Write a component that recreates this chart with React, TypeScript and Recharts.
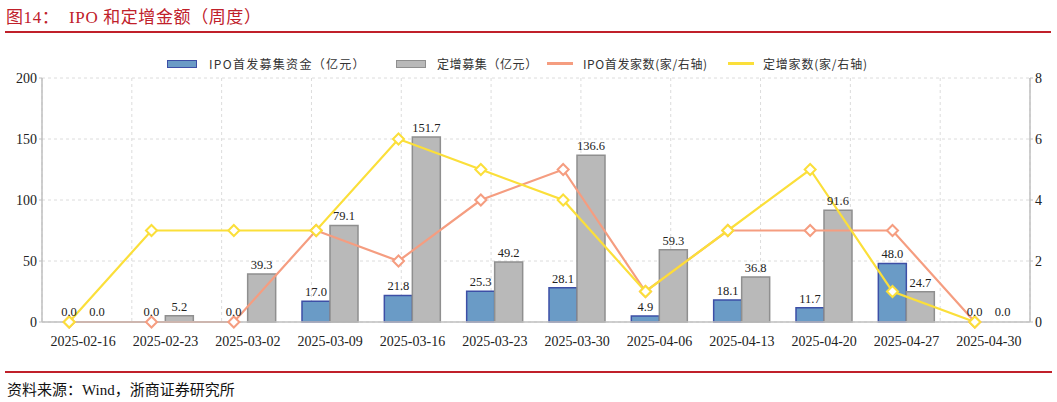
import React from 'react';
import { ComposedChart, Bar, Line, XAxis, YAxis, CartesianGrid, LabelList, Rectangle } from 'recharts';

// weekly data
const weeks = ['2025-02-16', '2025-02-23', '2025-03-02', '2025-03-09', '2025-03-16', '2025-03-23', '2025-03-30', '2025-04-06', '2025-04-13', '2025-04-20', '2025-04-27', '2025-04-30'];
const ipoAmount = [0, 0, 0, 17.0, 21.8, 25.3, 28.1, 4.9, 18.1, 11.7, 48.0, 0];
const placementAmount = [0, 5.2, 39.3, 79.1, 151.7, 49.2, 136.6, 59.3, 36.8, 91.6, 24.7, 0];
const ipoCount = [0, 0, 0, 3, 2, 4, 5, 1, 3, 3, 3, 0];
const placementCount = [0, 3, 3, 3, 6, 5, 4, 1, 3, 5, 1, 0];

const leftTicks = [0, 50, 100, 150, 200];
const rightTicks = [0, 2, 4, 6, 8];
const gridTicks = [1, 2, 3, 4, 5, 6, 7, 8, 9, 10, 11];

const data = weeks.map((w, i) => ({
    week: w,
    ipoAmount: ipoAmount[i],
    placementAmount: placementAmount[i],
    ipoCount: ipoCount[i],
    placementCount: placementCount[i],
}));

const BAR_W = 28;
const SHIFT = BAR_W / 2;
const BLUE = '#6a9bc6';
const BLUE_EDGE = '#3d4fa6';
const GRAY = '#b9b9b9';
const GRAY_EDGE = '#8f8f8f';
const ORANGE = '#f59d80';
const YELLOW = '#fbdf3a';
const RED = '#c0202a';
const SERIF = '"Liberation Serif", "Times New Roman", serif';
const CJK = '"Noto Sans CJK SC", sans-serif';

// markers sit over the first bar of each week, like the curve (shifted via css)
const Diamond = (color: string) => (props: any) => {
    const { cx, cy, index } = props;
    if (cx == null || cy == null) return <g key={index} />;
    const r = 5.5;
    const x = cx - SHIFT;
    return (
        <polygon
            key={index}
            points={`${x},${cy - r} ${x + r},${cy} ${x},${cy + r} ${x - r},${cy}`}
            fill="#fff"
            stroke={color}
            strokeWidth={2}
        />
    );
};

// zero bars keep a 1px slot so their "0.0" label still shows, but draw nothing
const barShape = (key: string) => (props: any) => {
    if (!props.payload || props.payload[key] === 0) return <g />;
    return <Rectangle {...props} />;
};

const fmt = (v: any) => Number(v).toFixed(1);

const legendItems = [
    { label: 'IPO首发募集资金（亿元）', kind: 'bar', color: BLUE, edge: BLUE_EDGE, mark: 167, text: 209, ls: 1.3 },
    { label: '定增募集（亿元）', kind: 'bar', color: GRAY, edge: GRAY_EDGE, mark: 396, text: 437, ls: 0.6 },
    { label: 'IPO首发家数(家/右轴)', kind: 'line', color: ORANGE, edge: ORANGE, mark: 547, text: 583, ls: 0.6 },
    { label: '定增家数(家/右轴)', kind: 'line', color: YELLOW, edge: YELLOW, mark: 728, text: 763, ls: 0.8 },
];

export default function App() {
    return (
        <div style={{ position: 'absolute', left: 0, top: 0, width: 1057, height: 402, background: '#fff', overflow: 'hidden' }}>
            <style>{`.shift-left { transform: translateX(-${SHIFT}px); }`}</style>
            <div style={{ position: 'absolute', left: 6, top: 3, fontFamily: `${SERIF}, ${CJK}`, fontSize: 17, color: RED, whiteSpace: 'pre', letterSpacing: 0.6 }}>
                图14：  IPO 和定增金额（周度）
            </div>
            <div style={{ position: 'absolute', left: 5, top: 31, width: 1046, height: 1.5, background: RED }} />

            {legendItems.map((it) => (
                <React.Fragment key={it.label}>
                    {it.kind === 'bar' ? (
                        <div style={{ position: 'absolute', left: it.mark, top: 60, width: 28, height: 6, background: it.color, border: `1px solid ${it.edge}` }} />
                    ) : (
                        <div style={{ position: 'absolute', left: it.mark, top: 62, width: 26, height: 3, background: it.color }} />
                    )}
                    <div style={{ position: 'absolute', left: it.text, top: 55, fontFamily: CJK, fontSize: 12, color: '#333', letterSpacing: it.ls, whiteSpace: 'pre' }}>
                        {it.label}
                    </div>
                </React.Fragment>
            ))}

            <div style={{ position: 'absolute', left: 0, top: 0 }}>
                <ComposedChart
                    width={1057}
                    height={402}
                    data={data}
                    margin={{ top: 78, right: 0, bottom: 50, left: 0 }}
                    barGap={0}
                    barCategoryGap={13}
                >
                    <XAxis xAxisId="grid" type="number" domain={[0, 12]} ticks={gridTicks} hide />
                    <CartesianGrid xAxisId="grid" yAxisId="left" stroke="#dcdcdc" strokeDasharray="3 3" />
                    <XAxis
                        dataKey="week"
                        height={30}
                        tickLine={false}
                        tickMargin={8}
                        axisLine={{ stroke: '#bfbfbf', strokeWidth: 1.5 }}
                        tick={{ fill: '#222', fontSize: 14, fontFamily: SERIF }}
                        interval={0}
                    />
                    <YAxis
                        yAxisId="left"
                        width={42}
                        domain={[0, 200]}
                        ticks={leftTicks}
                        tickSize={3}
                        tickMargin={2}
                        axisLine={{ stroke: '#bfbfbf', strokeWidth: 1.5 }}
                        tickLine={{ stroke: '#bfbfbf' }}
                        tick={{ fill: '#222', fontSize: 14, fontFamily: SERIF }}
                    />
                    <YAxis
                        yAxisId="right"
                        orientation="right"
                        width={27}
                        domain={[0, 8]}
                        ticks={rightTicks}
                        tickSize={3}
                        tickMargin={2}
                        axisLine={{ stroke: '#bfbfbf', strokeWidth: 1.5 }}
                        tickLine={{ stroke: '#bfbfbf' }}
                        tick={{ fill: '#222', fontSize: 14, fontFamily: SERIF }}
                    />
                    <Bar yAxisId="left" dataKey="ipoAmount" barSize={BAR_W} minPointSize={1} shape={barShape('ipoAmount')} fill={BLUE} stroke={BLUE_EDGE} strokeWidth={1.5} isAnimationActive={false}>
                        <LabelList dataKey="ipoAmount" position="top" offset={5} formatter={fmt} fill="#222" fontSize={12.5} fontFamily={SERIF} />
                    </Bar>
                    <Bar yAxisId="left" dataKey="placementAmount" barSize={BAR_W} minPointSize={1} shape={barShape('placementAmount')} fill={GRAY} stroke={GRAY_EDGE} strokeWidth={1.5} isAnimationActive={false}>
                        <LabelList dataKey="placementAmount" position="top" offset={5} formatter={fmt} fill="#222" fontSize={12.5} fontFamily={SERIF} />
                    </Bar>
                    <Line className="shift-left" yAxisId="right" type="linear" dataKey="ipoCount" stroke={ORANGE} strokeWidth={2.2} dot={Diamond(ORANGE)} activeDot={false} isAnimationActive={false} />
                    <Line className="shift-left" yAxisId="right" type="linear" dataKey="placementCount" stroke={YELLOW} strokeWidth={2.2} dot={Diamond(YELLOW)} activeDot={false} isAnimationActive={false} />
                </ComposedChart>
            </div>

            <div style={{ position: 'absolute', left: 5, top: 371, width: 1047, height: 1.5, background: RED }} />
            <div style={{ position: 'absolute', left: 7, top: 378, fontFamily: `${SERIF}, ${CJK}`, fontSize: 15, color: '#111' }}>
                资料来源：Wind，浙商证券研究所
            </div>
        </div>
    );
}
